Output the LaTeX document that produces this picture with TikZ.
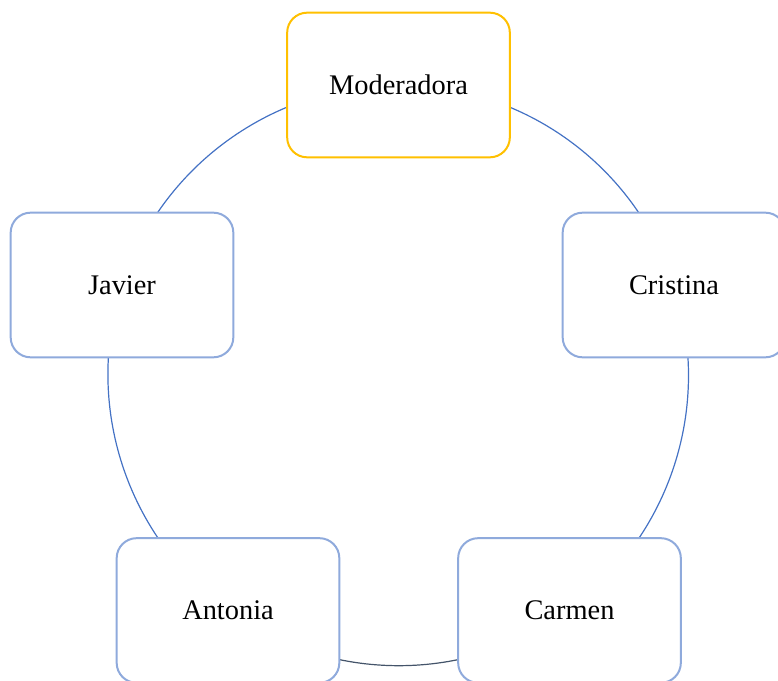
\documentclass[tikz,border=0pt]{standalone}
\usepackage{fontspec}
\setmainfont{Liberation Serif}
\usetikzlibrary{backgrounds}
\definecolor{gold}{HTML}{FFC000}
\definecolor{lblue}{HTML}{8FAADC}
\definecolor{arcblue}{HTML}{4472C4}
\definecolor{darkslate}{HTML}{44546A}
\tikzset{
  box/.style={draw=lblue, line width=1.5pt, fill=white, rounded corners=15pt,
    minimum width=167pt, minimum height=108.5pt, inner sep=0pt,
    font=\fontsize{21.3}{25}\selectfont},
  modbox/.style={box, draw=gold},
  ring/.style={draw=arcblue, line width=0.9pt, bend left=36, looseness=0.94},
}
\begin{document}
\begin{tikzpicture}[x=0.75pt, y=-0.75pt]
\useasboundingbox (0,0) rectangle (778,681);
\node[modbox] (mod) at (398.5,85) {Moderadora};
\node[box] (cri) at (674,285) {Cristina};
\node[box] (car) at (569.5,610.5) {Carmen};
\node[box] (ant) at (228,610.5) {Antonia};
\node[box] (jav) at (122,285) {Javier};
\begin{pgfonlayer}{background}
\draw[ring] (mod.center) to (cri.center);
\draw[ring] (cri.center) to (car.center);
\draw[ring, draw=darkslate] (car.center) to (ant.center);
\draw[ring] (ant.center) to (jav.center);
\draw[ring] (jav.center) to (mod.center);
\end{pgfonlayer}
\end{tikzpicture}
\end{document}
